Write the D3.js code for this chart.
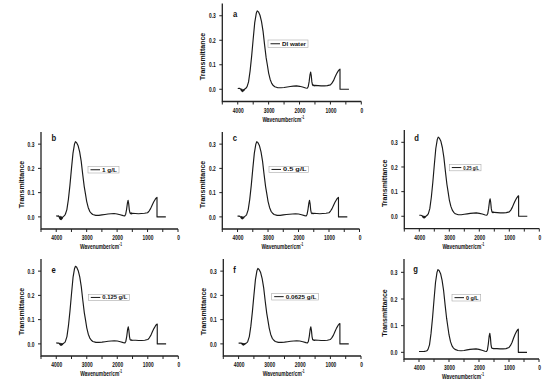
<!DOCTYPE html>
<html><head><meta charset="utf-8">
<script src="https://cdn.jsdelivr.net/npm/d3@7"></script>
<style>
body{margin:0;background:#fff}
svg{display:block}
text{font-family:"Liberation Sans",Arial,sans-serif;font-weight:bold;fill:#111}
</style>
</head><body><svg id="chart" width="554" height="384" viewBox="0 0 554 384"></svg>
<script>
// ---------------- data ----------------
const wavenumbers = [4000,3950,3920,3900,3880,3870,3860,3850,3840,3830,3820,3810,3800,
  3780,3760,3740,3720,3700,3650,3600,3550,3500,3450,3400,
  3370,3330,3280,3230,3180,3130,3080,3040,3000,2950,2900,2850,2800,
  2700,2600,2500,2400,2300,2200,2100,2000,1900,1800,
  1750,1720,1690,1660,1640,1620,1600,1580,1560,1540,1520,1500,
  1400,1300,1200,1100,1000,950,900,850,800,750,720,690,689,600,500,400];

const seriesDIWater = [0.003,0.004,0.002,0.000,-0.006,0.001,-0.008,-0.003,-0.010,-0.002,-0.007,-0.001,-0.005,
  0.000,0.002,0.004,0.006,0.010,0.030,0.075,0.135,0.205,0.272,0.310,
  0.320,0.316,0.302,0.276,0.236,0.180,0.128,0.098,0.066,0.040,0.024,0.015,0.010,
  0.006,0.006,0.007,0.009,0.011,0.013,0.014,0.012,0.009,0.005,
  0.004,0.010,0.030,0.060,0.070,0.056,0.030,0.018,0.015,0.018,0.014,0.016,
  0.015,0.014,0.014,0.015,0.018,0.025,0.035,0.050,0.063,0.074,0.079,0.082,0.000,0.000,0.000,0.000];

const series1gL = [0.004,0.003,0.004,-0.002,-0.008,0.002,-0.010,-0.004,-0.012,0.000,-0.009,-0.002,-0.006,
  0.000,0.002,0.004,0.007,0.011,0.030,0.072,0.130,0.198,0.262,0.300,
  0.310,0.306,0.293,0.268,0.230,0.175,0.125,0.095,0.064,0.039,0.023,0.015,0.010,
  0.006,0.006,0.008,0.010,0.012,0.013,0.014,0.012,0.009,0.005,
  0.004,0.010,0.030,0.058,0.068,0.055,0.030,0.017,0.013,0.017,0.012,0.015,
  0.014,0.013,0.014,0.015,0.017,0.024,0.034,0.048,0.061,0.072,0.077,0.080,0.000,0.000,0.000,0.000];

const series05gL = [0.003,0.003,0.002,0.000,-0.005,0.001,-0.007,-0.002,-0.008,0.000,-0.006,-0.001,-0.004,
  0.000,0.002,0.004,0.006,0.010,0.030,0.072,0.130,0.198,0.262,0.300,
  0.310,0.306,0.293,0.268,0.230,0.175,0.125,0.095,0.064,0.039,0.023,0.015,0.010,
  0.006,0.006,0.008,0.010,0.011,0.012,0.013,0.012,0.009,0.005,
  0.004,0.010,0.030,0.058,0.068,0.054,0.028,0.016,0.013,0.016,0.013,0.015,
  0.014,0.013,0.014,0.015,0.017,0.024,0.034,0.048,0.061,0.072,0.077,0.080,0.000,0.000,0.000,0.000];

const series025gL = [0.004,0.004,0.003,0.001,-0.004,0.001,-0.006,-0.002,-0.008,0.000,-0.005,-0.001,-0.004,
  0.000,0.002,0.004,0.006,0.010,0.031,0.076,0.137,0.208,0.275,0.312,
  0.321,0.317,0.304,0.278,0.238,0.182,0.130,0.099,0.067,0.041,0.025,0.016,0.010,
  0.006,0.006,0.008,0.010,0.012,0.013,0.014,0.012,0.009,0.005,
  0.004,0.010,0.031,0.061,0.071,0.057,0.031,0.019,0.015,0.018,0.015,0.016,
  0.015,0.014,0.014,0.015,0.018,0.025,0.036,0.051,0.064,0.075,0.080,0.083,0.000,0.000,0.000,0.000];

const series0125gL = [0.004,0.003,0.003,0.002,-0.003,0.002,-0.005,-0.001,-0.006,0.001,-0.004,0.000,-0.003,
  0.001,0.002,0.004,0.006,0.010,0.030,0.075,0.136,0.207,0.274,0.311,
  0.320,0.316,0.302,0.276,0.236,0.180,0.128,0.098,0.066,0.040,0.024,0.015,0.010,
  0.006,0.006,0.007,0.009,0.011,0.012,0.013,0.012,0.009,0.005,
  0.004,0.010,0.031,0.061,0.070,0.056,0.030,0.018,0.015,0.017,0.014,0.015,
  0.015,0.014,0.014,0.015,0.018,0.025,0.035,0.050,0.063,0.074,0.079,0.082,0.000,0.000,0.000,0.000];

const series00625gL = [0.003,0.003,0.003,0.002,-0.002,0.002,-0.004,0.000,-0.005,0.001,-0.003,0.001,-0.002,
  0.001,0.002,0.004,0.006,0.010,0.030,0.073,0.132,0.200,0.265,0.302,
  0.311,0.307,0.294,0.269,0.231,0.176,0.126,0.096,0.065,0.039,0.023,0.015,0.010,
  0.006,0.006,0.007,0.009,0.011,0.012,0.013,0.012,0.009,0.005,
  0.004,0.010,0.031,0.061,0.070,0.056,0.030,0.018,0.015,0.017,0.014,0.016,
  0.015,0.014,0.014,0.015,0.018,0.026,0.036,0.051,0.065,0.076,0.081,0.084,0.000,0.000,0.000,0.000];

const series0gL = [0.003,0.003,0.003,0.003,0.003,0.003,0.003,0.003,0.003,0.003,0.003,0.004,0.004,
  0.004,0.005,0.006,0.008,0.011,0.028,0.070,0.128,0.196,0.262,0.300,
  0.310,0.307,0.295,0.270,0.232,0.178,0.128,0.097,0.066,0.040,0.024,0.016,0.011,
  0.007,0.006,0.007,0.009,0.011,0.012,0.013,0.011,0.008,0.004,
  0.003,0.009,0.031,0.062,0.071,0.056,0.029,0.017,0.015,0.015,0.014,0.014,
  0.014,0.013,0.013,0.014,0.018,0.026,0.037,0.053,0.067,0.078,0.084,0.087,0.000,0.000,0.000,0.000];

const allSeries = [seriesDIWater, series1gL, series05gL, series025gL, series0125gL, series00625gL, series0gL];
const legendLabels = ["DI water","1 g/L","0.5 g/L","0.25 g/L","0.125 g/L","0.0625 g/L","0 g/L"];
const panelLetters = ["a","b","c","d","e","f","g"];
const xTickLabels = [4000,3000,2000,1000,0];
const xMinorTicks = [4500,4000,3500,3000,2500,2000,1500,1000,500,0];
const yTickLabels = [0.0,0.1,0.2,0.3];
const xTitle = "Wavenumber/cm";
const xTitleSup = "-1";
const yTitle = "Transmittance";

// ---------------- layout (positions only) ----------------
const layout = [
  {l:222.3,r:361.3,t:3.5,b:101.5,yd:[-0.05,0.35],lab:[233,17.3],leg:[268,40,40,7.5]},
  {l:41,r:178,t:132,b:229,yd:[-0.05,0.35],lab:[51.5,140.5],leg:[88,166.5,31,6.5]},
  {l:222.3,r:359.5,t:132,b:229,yd:[-0.05,0.35],lab:[232.7,140.5],leg:[269,166.3,39.5,6.3]},
  {l:404.3,r:539.3,t:130,b:228.6,yd:[-0.05,0.35],lab:[414.3,140.5],leg:[449.3,164.3,31.7,6.5]},
  {l:41,r:178.3,t:259,b:356,yd:[-0.05,0.35],lab:[51.5,273.3],leg:[88.3,294.3,41,6.3]},
  {l:223.3,r:361,t:259,b:356,yd:[-0.05,0.35],lab:[233.3,273.3],leg:[271.7,293.3,46.6,6.7]},
  {l:404,r:539,t:259,b:359,yd:[-0.025,0.35],lab:[413.3,272],leg:[452,294.3,28.7,6.7],serifLabel:true}
];

const SX = 0.7; // horizontal squeeze of the original figure's lettering
const AX = "#222";
const svg = d3.select("#chart");

layout.forEach((p, i) => {
  const g = svg.append("g");
  const x = d3.scaleLinear().domain([4500, 0]).range([p.l, p.r]);
  const y = d3.scaleLinear().domain(p.yd).range([p.b, p.t]);
  const xr = x.range(), yr = y.range();

  // spectrum line
  const pts = wavenumbers.map((w, k) => [w, allSeries[i][k]]);
  g.append("path").datum(pts)
    .attr("fill", "none").attr("stroke", "#1a1a1a").attr("stroke-width", 1.15)
    .attr("stroke-linejoin", "round")
    .attr("d", d3.line().x(d => x(d[0])).y(d => y(d[1])));

  // L-shaped axis frame
  g.append("path")
    .attr("d", `M${xr[0]},${yr[1]}L${xr[0]},${yr[0]}L${xr[1]},${yr[0]}`)
    .attr("fill", "none").attr("stroke", AX).attr("stroke-width", 1.3);

  // ticks
  g.append("path")
    .attr("d", xMinorTicks.map(d => `M${x(d)},${yr[0]}v3`).join("") +
               yTickLabels.map(d => `M${xr[0]},${y(d)}h-3`).join(""))
    .attr("fill", "none").attr("stroke", AX).attr("stroke-width", 1);

  const xa = g.append("g").attr("transform", `translate(0,${p.b})`)
    .call(d3.axisBottom(x).tickValues(xTickLabels).tickSize(3).tickSizeOuter(0).tickFormat(d3.format("d")));
  xa.select(".domain").remove();
  xa.selectAll("line").remove();
  xa.selectAll("text").attr("font-size", 7).attr("y", 6.5).attr("dy", "0.71em")
    .attr("transform", `scale(${SX},1)`).attr("font-family", null).style("fill", "#111");

  const ya = g.append("g").attr("transform", `translate(${p.l},0)`)
    .call(d3.axisLeft(y).tickValues(yTickLabels).tickSize(3).tickSizeOuter(0).tickFormat(d3.format(".1f")));
  ya.select(".domain").remove();
  ya.selectAll("line").remove();
  ya.selectAll("text").attr("font-size", 7).attr("x", -6.6 / SX)
    .attr("transform", `scale(${SX},1)`).attr("font-family", null).style("fill", "#111");

  const xt = g.append("text").attr("font-size", 7)
    .attr("transform", `translate(${(p.l + p.r) / 2 - 8.5},${p.b + 20}) scale(${SX},1)`)
    .attr("text-anchor", "middle");
  xt.append("tspan").text(xTitle);
  xt.append("tspan").attr("font-size", 4.5).attr("dy", -3).text(xTitleSup);

  g.append("text").attr("font-size", 7).attr("text-anchor", "middle")
    .attr("transform", `translate(${p.l - 17},${(p.t + p.b) / 2 + 4}) rotate(-90)`)
    .text(yTitle);

  g.append("text").attr("font-size", 9)
    .attr("font-family", p.serifLabel ? "'Liberation Serif','Times New Roman',serif" : null)
    .attr("transform", `translate(${p.lab[0]},${p.lab[1]}) scale(0.85,1)`)
    .text(panelLetters[i]);

  const [lx, ly, lw, lh] = p.leg;
  g.append("rect").attr("x", lx).attr("y", ly).attr("width", lw).attr("height", lh)
    .attr("fill", "#fff").attr("stroke", "#aaa").attr("stroke-width", 0.6);
  g.append("line").attr("x1", lx + 2.5).attr("x2", lx + 12)
    .attr("y1", ly + lh / 2).attr("y2", ly + lh / 2)
    .attr("stroke", "#1a1a1a").attr("stroke-width", 1);
  g.append("text").attr("x", lx + 14).attr("y", ly + lh / 2 + 2)
    .attr("font-size", 5.5).attr("textLength", lw - 16).attr("lengthAdjust", "spacingAndGlyphs")
    .text(legendLabels[i]);
});
</script></body></html>
